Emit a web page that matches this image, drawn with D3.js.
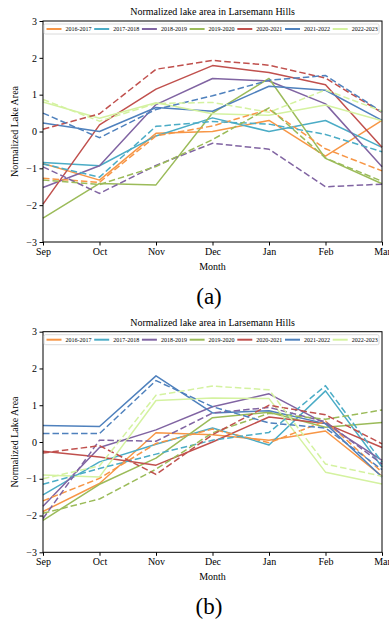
<!DOCTYPE html>
<html>
<head>
<meta charset="utf-8">
<script src="https://cdn.jsdelivr.net/npm/d3@7"></script>
<style>
  body { margin: 0; background: #fff; }
  svg text { font-family: "Liberation Serif", "Times New Roman", Times, serif; }
</style>
</head>
<body>
<div id="chart"></div>
<script>
const months = ["Sep", "Oct", "Nov", "Dec", "Jan", "Feb", "Mar"];
const seasons = ["2016-2017", "2017-2018", "2018-2019", "2019-2020", "2020-2021", "2021-2022", "2022-2023"];
const colors = ["#F79646", "#4BACC6", "#8064A2", "#9BBB59", "#C0504D", "#4F81BD", "#D4F2A0"];
const yTicks = [-3, -2, -1, 0, 1, 2, 3];

// panel (a), one row per season, Sep..Mar
const aSolid = [
   [-0.87, -1.32, -0.05, 0.0, 0.3, -0.67, 0.3],
   [-0.84, -0.93, -0.12, 0.37, 0.0, 0.3, -0.43],
   [-1.52, -0.93, 0.73, 1.44, 1.37, 0.75, -0.96],
   [-2.35, -1.41, -1.45, 0.5, 1.44, -0.73, -1.42],
   [-1.97, 0.18, 1.15, 1.79, 1.6, 1.27, -0.43],
   [0.23, 0.0, 0.65, 0.55, 1.23, 1.12, 0.3],
   [0.8, 0.36, 0.78, 0.48, 0.44, 0.72, 0.29]
];
const aDashed = [
   [-1.27, -1.38, -0.12, 0.15, 0.6, -0.47, -1.07],
   [-0.88, -1.24, 0.14, 0.27, 0.2, -0.08, -0.55],
   [-0.96, -1.68, -0.92, -0.32, -0.48, -1.5, -1.43],
   [-1.32, -1.44, -0.95, -0.22, 0.64, -0.72, -1.35],
   [0.06, 0.48, 1.69, 1.93, 1.8, 1.45, 0.51],
   [0.5, -0.17, 0.6, 0.97, 1.39, 1.52, 0.53],
   [0.87, 0.28, 0.76, 0.79, 0.52, 1.13, 0.55]
];

// panel (b)
const bSolid = [
   [-1.89, -1.13, 0.25, 0.2, 0.05, 0.3, -0.93],
   [-1.44, -0.54, -0.06, 0.38, -0.08, 1.39, -0.68],
   [-1.75, -0.15, 0.33, 0.96, 1.31, 0.5, -0.5],
   [-2.13, -1.15, -0.44, 0.66, 0.81, 0.4, 0.53],
   [-0.25, -0.41, -0.63, 0.0, 0.68, 0.5, -0.15],
   [0.45, 0.42, 1.8, 0.79, 0.85, 0.5, -0.95],
   [-0.9, -0.95, 1.13, 1.2, 1.18, -0.82, -1.14]
];
const bDashed = [
   [-1.6, -0.99, -0.04, 0.35, -0.02, 0.57, -0.82],
   [-1.15, -0.72, -0.33, 0.05, 0.26, 1.53, -0.55],
   [-2.08, 0.05, 0.02, 0.79, 0.94, 0.55, -0.6],
   [-1.94, -1.55, -0.74, 0.25, 0.78, 0.62, 0.87],
   [-0.3, -0.1, -0.88, 0.2, 1.0, 0.74, -0.05],
   [0.23, 0.23, 1.67, 0.96, 0.52, 0.38, -0.75],
   [-1.0, -0.65, 1.27, 1.52, 1.42, -0.6, -0.93]
];

const width = 389;
const height = 631;
const margin = { left: 43, right: 7 };
const serif = "'Liberation Serif', 'Times New Roman', Times, serif";

const svg = d3.select("#chart").append("svg")
   .attr("width", width)
   .attr("height", height)
   .attr("viewBox", [0, 0, width, height])
   .attr("font-family", serif);

const x = d3.scalePoint()
   .domain(months)
   .range([margin.left, width - margin.right]);

const fmt = d => d < 0 ? "\u2212" + Math.abs(d) : String(d);

function drawPanel(top, bottom, solid, dashed, label, labelY) {
   const y = d3.scaleLinear().domain([-3, 3]).range([bottom, top]);
   const g = svg.append("g");
   const line = d3.line().x((d, i) => x(months[i])).y(d => y(d));

   // lines: solid first, then dashed
   g.append("g")
      .attr("fill", "none")
      .attr("stroke-width", 1.5)
      .attr("stroke-linejoin", "round")
      .selectAll("path")
      .data(solid)
      .join("path")
      .attr("stroke", (d, i) => colors[i])
      .attr("d", line);

   g.append("g")
      .attr("fill", "none")
      .attr("stroke-width", 1.5)
      .attr("stroke-dasharray", "6.5,3")
      .selectAll("path")
      .data(dashed)
      .join("path")
      .attr("stroke", (d, i) => colors[i])
      .attr("d", line);

   // axes
   g.append("g")
      .attr("transform", `translate(${margin.left},0)`)
      .call(d3.axisLeft(y).tickValues(yTicks).tickFormat(fmt).tickSize(3.5).tickPadding(2.5))
      .attr("font-family", serif)
      .attr("font-size", 10)
      .call(a => a.select(".domain").remove())
      .call(a => a.selectAll("text").attr("fill", "#000"));

   g.append("g")
      .attr("transform", `translate(0,${bottom})`)
      .call(d3.axisBottom(x).tickSize(3.5).tickPadding(2.5))
      .attr("font-family", serif)
      .attr("font-size", 10)
      .call(a => a.select(".domain").remove())
      .call(a => a.selectAll("text").attr("fill", "#000"));

   g.append("rect")
      .attr("x", margin.left)
      .attr("y", top)
      .attr("width", width - margin.right - margin.left)
      .attr("height", bottom - top)
      .attr("fill", "none")
      .attr("stroke", "#000")
      .attr("stroke-width", 1);

   // titles
   const cx = (margin.left + width - margin.right) / 2;
   g.append("text")
      .attr("x", cx)
      .attr("y", top - 6)
      .attr("text-anchor", "middle")
      .attr("font-size", 10)
      .text("Normalized lake area in Larsemann Hills");

   g.append("text")
      .attr("x", cx)
      .attr("y", bottom + 28)
      .attr("text-anchor", "middle")
      .attr("font-size", 10)
      .text("Month");

   g.append("text")
      .attr("transform", `translate(18,${(top + bottom) / 2}) rotate(-90)`)
      .attr("text-anchor", "middle")
      .attr("font-size", 10)
      .text("Normalized Lake Area");

   g.append("text")
      .attr("x", 209)
      .attr("y", labelY)
      .attr("text-anchor", "middle")
      .attr("font-size", 23)
      .text(label);

   // legend
   const lg = g.append("g").attr("transform", `translate(44,${top + 3})`);
   lg.append("rect")
      .attr("width", 335)
      .attr("height", 10)
      .attr("rx", 1.5)
      .attr("fill", "#fff")
      .attr("fill-opacity", 0.8)
      .attr("stroke", "#d0d0d0")
      .attr("stroke-width", 0.8);

   const item = lg.selectAll("g.item")
      .data(seasons)
      .join("g")
      .attr("class", "item")
      .attr("transform", (d, i) => `translate(${2.5 + i * 47.7},5)`);

   item.append("line")
      .attr("x1", 0).attr("x2", 15)
      .attr("stroke", (d, i) => colors[i])
      .attr("stroke-width", 2);

   item.append("text")
      .attr("x", 19)
      .attr("dy", "0.34em")
      .attr("font-size", 6)
      .text(d => d);
}

drawPanel(21, 242, aSolid, aDashed, "(a)", 304);
drawPanel(331.7, 552.3, bSolid, bDashed, "(b)", 614);
</script>
</body>
</html>
